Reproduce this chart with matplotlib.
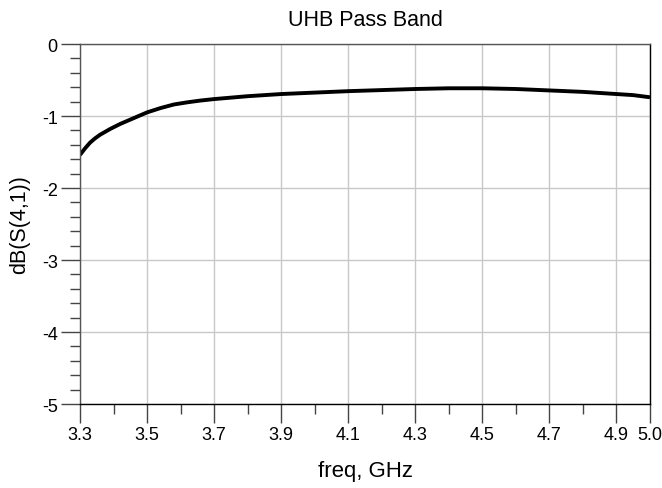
import numpy as np
import matplotlib
matplotlib.use("Agg")
import matplotlib.pyplot as plt

plt.rcParams['font.family'] = ['Liberation Sans', 'DejaVu Sans']

# values
freq = [3.30, 3.315, 3.33, 3.345, 3.36, 3.375, 3.39, 3.42, 3.45, 3.48, 3.50,
        3.54, 3.58, 3.62, 3.66, 3.70, 3.80, 3.90, 4.00, 4.10, 4.20, 4.30,
        4.40, 4.50, 4.60, 4.70, 4.80, 4.90, 4.95, 5.00]
s41_db = [-1.54, -1.45, -1.37, -1.31, -1.26, -1.22, -1.18, -1.11, -1.05, -0.99, -0.95,
          -0.89, -0.84, -0.81, -0.785, -0.765, -0.725, -0.695, -0.675, -0.655, -0.64, -0.625,
          -0.615, -0.615, -0.625, -0.645, -0.665, -0.695, -0.71, -0.74]

xticks = [3.3, 3.5, 3.7, 3.9, 4.1, 4.3, 4.5, 4.7, 4.9, 5.0]
xminor = [3.4, 3.6, 3.8, 4.0, 4.2, 4.4, 4.6, 4.8]
yticks = [0, -1, -2, -3, -4, -5]

fig = plt.figure(figsize=(6.62, 4.89), dpi=100)
ax = fig.add_axes([80/662, 1 - 405/489, 570/662, 360/489])

ax.plot(freq, s41_db, color='black', linewidth=2.8, solid_capstyle='butt')

ax.set_xlim(3.3, 5.0)
ax.set_ylim(-5, 0)
ax.set_xticks(xticks)
ax.set_xticklabels(['%.1f' % v for v in xticks])
ax.set_xticks(xminor, minor=True)
ax.set_yticks(yticks)
ax.set_yticklabels(['%d' % v for v in yticks])
ax.set_yticks(np.arange(-5, 0.01, 0.2), minor=True)

ax.grid(True, which='major', color='#c8c8c8', linewidth=1.0)
ax.tick_params(which='major', direction='out', length=14, width=1.0, color='#444444',
               labelsize=13, pad=2)
ax.tick_params(which='minor', direction='out', length=7, width=1.0, color='#444444')
for s in ax.spines.values():
    s.set_color('#555555')
    s.set_linewidth(1.0)
ax.spines['bottom'].set_color('black')
ax.spines['right'].set_color('black')

ax.set_title('UHB Pass Band', fontsize=15.5, pad=14)
ax.set_xlabel('freq, GHz', fontsize=16, labelpad=12)
ax.set_ylabel('dB(S(4,1))', fontsize=15.5)
ax.yaxis.set_label_coords(-0.088, 0.5)

fig.savefig('out.png', dpi=100)
